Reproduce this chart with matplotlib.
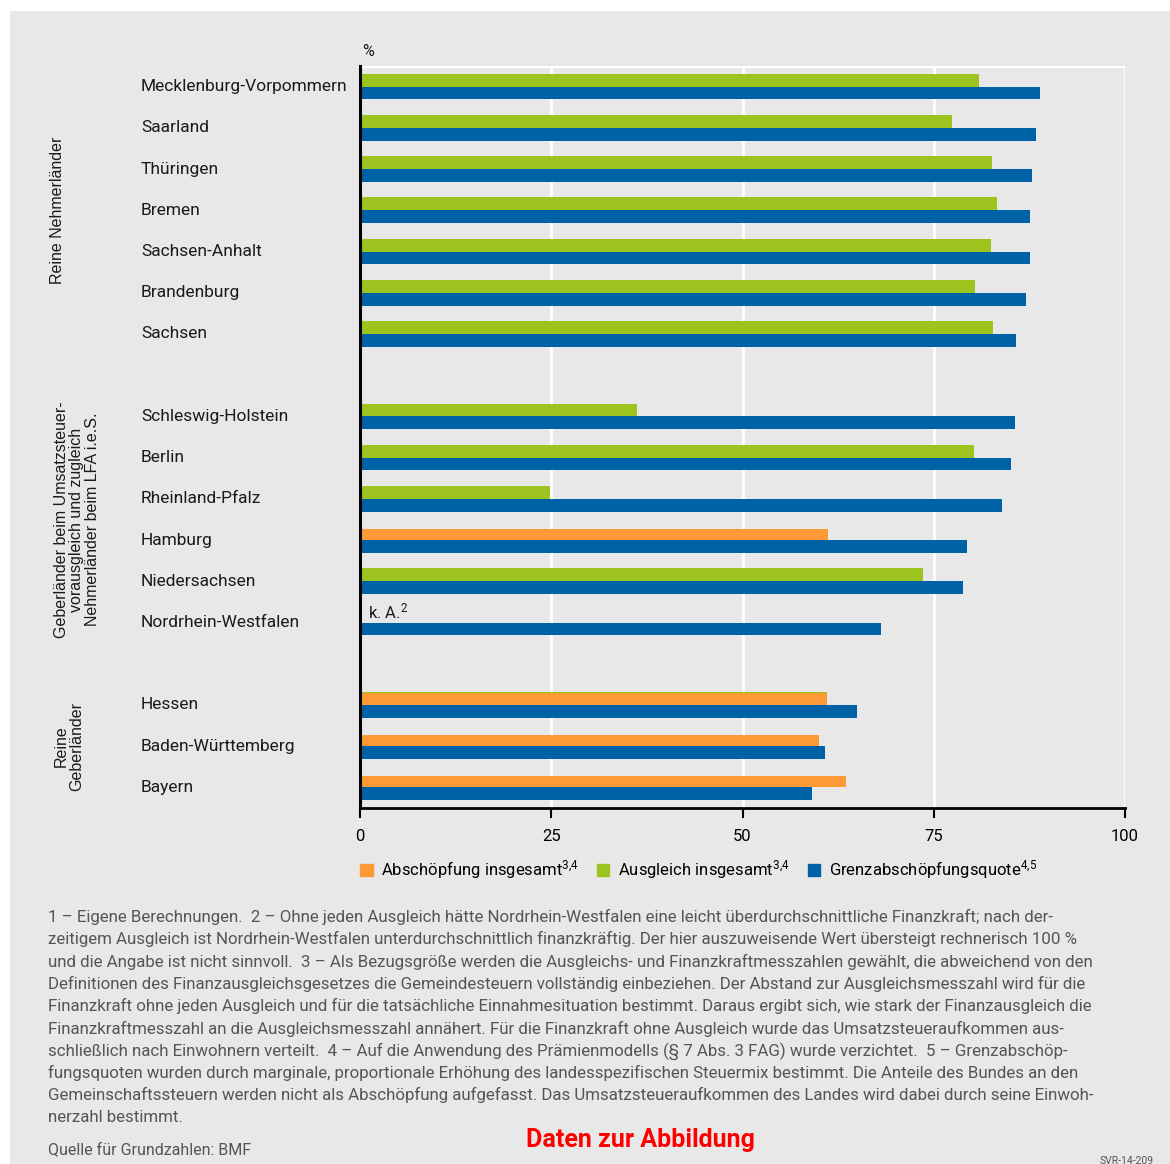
import matplotlib.pyplot as plt
import matplotlib.transforms as mtransforms
import numpy as np
from matplotlib.patches import Rectangle, Patch

plt.rcParams['font.family'] = ['Roboto', 'DejaVu Sans']
plt.rcParams['mathtext.fontset'] = 'custom'
plt.rcParams['mathtext.rm'] = 'Roboto'
plt.rcParams['mathtext.it'] = 'Roboto:italic'

# data
laender = ['Mecklenburg-Vorpommern', 'Saarland', 'Thüringen', 'Bremen', 'Sachsen-Anhalt',
           'Brandenburg', 'Sachsen',
           'Schleswig-Holstein', 'Berlin', 'Rheinland-Pfalz', 'Hamburg', 'Niedersachsen',
           'Nordrhein-Westfalen',
           'Hessen', 'Baden-Württemberg', 'Bayern']
gruppe = [0, 0, 0, 0, 0, 0, 0, 1, 1, 1, 1, 1, 1, 2, 2, 2]
gruppen_namen = ['Reine Nehmerländer',
                 'Geberländer beim Umsatzsteuer-\nvorausgleich und zugleich\nNehmerländer beim LFA i.e.S.',
                 'Reine\nGeberländer']
abschoepfung = [None, None, None, None, None, None, None,
                None, None, None, 61.2, None, None,
                61.0, 60.0, 63.5]
ausgleich = [80.9, 77.4, 82.6, 83.3, 82.5, 80.4, 82.7,
             36.2, 80.3, 24.8, None, 73.6, None,
             61.0, None, None]
grenzquote = [88.9, 88.4, 87.8, 87.6, 87.6, 87.1, 85.8,
              85.6, 85.1, 83.9, 79.3, 78.8, 68.1,
              65.0, 60.8, 59.1]
xticks = [0, 25, 50, 75, 100]

footnote = [
    "1 – Eigene Berechnungen.  2 – Ohne jeden Ausgleich hätte Nordrhein-Westfalen eine leicht überdurchschnittliche Finanzkraft; nach der-",
    "zeitigem Ausgleich ist Nordrhein-Westfalen unterdurchschnittlich finanzkräftig. Der hier auszuweisende Wert übersteigt rechnerisch 100 %",
    "und die Angabe ist nicht sinnvoll.  3 – Als Bezugsgröße werden die Ausgleichs- und Finanzkraftmesszahlen gewählt, die abweichend von den",
    "Definitionen des Finanzausgleichsgesetzes die Gemeindesteuern vollständig einbeziehen. Der Abstand zur Ausgleichsmesszahl wird für die",
    "Finanzkraft ohne jeden Ausgleich und für die tatsächliche Einnahmesituation bestimmt. Daraus ergibt sich, wie stark der Finanzausgleich die",
    "Finanzkraftmesszahl an die Ausgleichsmesszahl annähert. Für die Finanzkraft ohne Ausgleich wurde das Umsatzsteueraufkommen aus-",
    "schließlich nach Einwohnern verteilt.  4 – Auf die Anwendung des Prämienmodells (§ 7 Abs. 3 FAG) wurde verzichtet.  5 – Grenzabschöp-",
    "fungsquoten wurden durch marginale, proportionale Erhöhung des landesspezifischen Steuermix bestimmt. Die Anteile des Bundes an den",
    "Gemeinschaftssteuern werden nicht als Abschöpfung aufgefasst. Das Umsatzsteueraufkommen des Landes wird dabei durch seine Einwoh-",
    "nerzahl bestimmt.",
]

ORANGE = '#fd9a35'
GREEN = '#9cc31e'
BLUE = '#0062a6'
BG = '#e8e8e8'
W, H = 1170, 1164

fig = plt.figure(figsize=(W / 100, H / 100), dpi=100)
fig.patch.set_facecolor('white')
fig.patches.append(Rectangle((10 / W, 0), 1, 1 - 11 / H, transform=fig.transFigure,
                             facecolor=BG, edgecolor='none', zorder=-10))

ax = fig.add_axes([360 / W, 1 - 808 / H, 765 / W, 742 / H])
ax.set_facecolor(BG)

# one empty row between the groups
pos = np.array([i + g for i, g in enumerate(gruppe)], dtype=float)
bh = 0.31

for i in range(len(laender)):
    if ausgleich[i] is not None:
        ax.barh(pos[i] - bh, ausgleich[i], height=bh, align='edge', color=GREEN, zorder=3)
    if abschoepfung[i] is not None:
        ax.barh(pos[i] - bh + 0.03, abschoepfung[i], height=bh - 0.03, align='edge',
                color=ORANGE, zorder=4)
    ax.barh(pos[i], grenzquote[i], height=bh, align='edge', color=BLUE, zorder=3)

ax.set_xlim(0, 100)
ax.set_ylim(pos[-1] + 0.5, -0.5)
ax.set_xticks(xticks)
ax.set_xticklabels([str(t) for t in xticks], fontsize=12)
ax.set_yticks([])
ax.grid(axis='x', color='white', linewidth=2, zorder=1)
ax.axhline(-0.5, color='white', linewidth=3, zorder=1)
for s in ['top', 'right']:
    ax.spines[s].set_visible(False)
ax.spines['left'].set_linewidth(2.2)
ax.spines['bottom'].set_linewidth(2)
ax.spines['left'].set_zorder(5)
ax.tick_params(axis='x', direction='out', length=7, width=1.5, pad=8, colors='black')

# state labels
lab_trans = mtransforms.blended_transform_factory(fig.transFigure, ax.transData)
for i, name in enumerate(laender):
    ax.text(141 / W, pos[i], name, transform=lab_trans, fontsize=12.5,
            ha='left', va='center', color='#1a1a1a')

# group labels
gx = [58, 77, 69]
for g, name in enumerate(gruppen_namen):
    rows = pos[np.array(gruppe) == g]
    yc = (rows.min() + rows.max()) / 2
    fig.text(gx[g] / W, yc, name, transform=lab_trans, rotation=90,
             ha='center', va='center', multialignment='center',
             fontsize=11.5, family='Liberation Sans', color='#1a1a1a', linespacing=1.05)

fig.text(362 / W, 1 - 52 / H, '%', fontsize=11.5, ha='left', va='center', color='#1a1a1a')

# k. A. for Nordrhein-Westfalen
nrw = laender.index('Nordrhein-Westfalen')
ax.text(1, pos[nrw] - 0.28, 'k. A.$^{2}$', fontsize=12, ha='left', va='center', color='#1a1a1a')

handles = [Patch(color=ORANGE), Patch(color=GREEN), Patch(color=BLUE)]
labels = ['Abschöpfung insgesamt$^{3{,}4}$', 'Ausgleich insgesamt$^{3{,}4}$',
          'Grenzabschöpfungsquote$^{4{,}5}$']
fig.legend(handles, labels, loc='center left', bbox_to_anchor=(345 / W, 1 - 870 / H),
           ncol=3, frameon=False, fontsize=12, handlelength=0.75, handleheight=0.75,
           handletextpad=0.5, columnspacing=1.1)

for k, line in enumerate(footnote):
    fig.text(48 / W, 1 - (917 + 22.3 * k) / H, line, fontsize=12.15, color='#555555',
             ha='left', va='center')

fig.text(48 / W, 1 - 1150 / H, 'Quelle für Grundzahlen: BMF', fontsize=11.5, color='#555555',
         ha='left', va='center')
fig.text(640 / W, 1 - 1140 / H, 'Daten zur Abbildung', fontsize=18, color='#ff0000',
         ha='center', va='center', fontweight='bold')
fig.text(1100 / W, 1 - 1161 / H, 'SVR-14-209', fontsize=7.5, color='#555555',
         ha='left', va='center')

fig.savefig('out.png', dpi=100)
